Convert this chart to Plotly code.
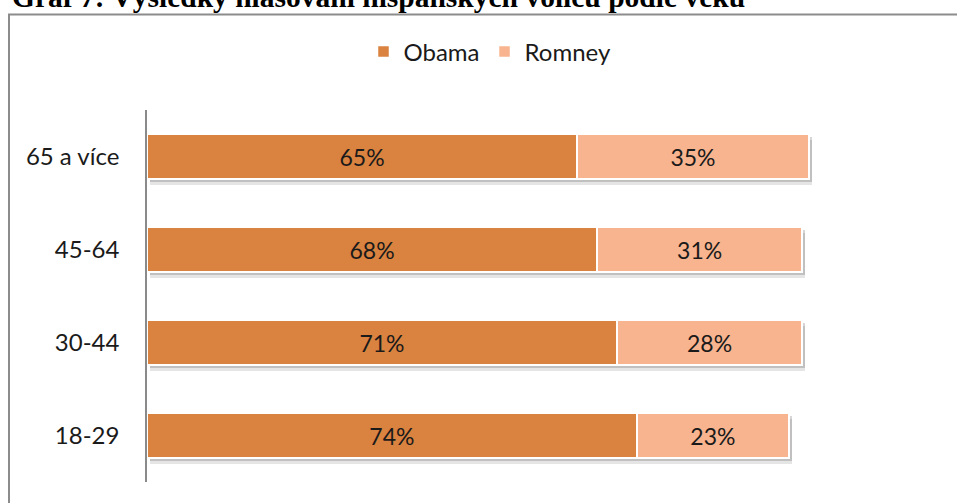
import plotly.graph_objects as go

# Hlasování hispánských voličů podle věkových skupin (v %)
age_groups = ["18-29", "30-44", "45-64", "65 a více"]
obama = [74, 71, 68, 65]
romney = [23, 28, 31, 35]

series_names = ["Obama", "Romney"]
series_colors = ["#DA823F", "#F8B48F"]

W, H = 957, 503
L, R, T, B = 147, 82, 110, 21
X_MAX = 110
plot_w = W - L - R
plot_h = H - T - B
FONT = "Lato"
FS = 24


def px_to_paper_x(px):
    return (px - L) / plot_w


def px_to_paper_y(py):
    return (H - B - py) / plot_h


fig = go.Figure()
totals = [o + r for o, r in zip(obama, romney)]

# base axes: transparent copy so the category axis gets its labels
fig.add_trace(go.Bar(
    y=age_groups, x=totals, orientation="h",
    marker=dict(color="rgba(0,0,0,0)", line=dict(width=0)),
    showlegend=False, hoverinfo="skip",
))

# soft drop shadow behind each stacked bar (same data, offset axes)
for yax, alpha in [("y2", 0.10), ("y3", 0.16)]:
    fig.add_trace(go.Bar(
        y=age_groups, x=totals, orientation="h",
        marker=dict(color=f"rgba(0,0,0,{alpha})", line=dict(width=0)),
        xaxis="x2", yaxis=yax, showlegend=False, hoverinfo="skip",
    ))

for name, vals, col in zip(series_names, [obama, romney], series_colors):
    fig.add_trace(go.Bar(
        y=age_groups, x=vals, orientation="h", name=name,
        marker=dict(color=col, line=dict(color="white", width=1.5)),
        text=[f"{v}%" for v in vals], textposition="inside",
        insidetextanchor="middle",
        textfont=dict(family=FONT, size=FS - 1, color="#1a1a1a"),
        xaxis="x3", yaxis="y4",
    ))

cat = dict(categoryorder="array", categoryarray=age_groups)
shift_x = 3 * X_MAX / plot_w
step = plot_h / len(age_groups)

fig.update_layout(
    width=W, height=H,
    margin=dict(l=L, r=R, t=T, b=B),
    paper_bgcolor="white", plot_bgcolor="white",
    barmode="stack", bargap=0.52,
    font=dict(family=FONT, size=FS, color="#1a1a1a"),
    xaxis=dict(range=[0, X_MAX], visible=False, fixedrange=True),
    yaxis=dict(
        **cat, range=[-0.5, 3.5], showline=True, linecolor="#8a8a8a",
        linewidth=1.5, showgrid=False, ticks="", ticklabelstandoff=21,
        tickfont=dict(family=FONT, size=FS, color="#1a1a1a"),
    ),
    xaxis2=dict(range=[-shift_x, X_MAX - shift_x], overlaying="x", visible=False),
    yaxis2=dict(**cat, range=[-0.5 + 6 / step, 3.5 + 6 / step], overlaying="y", visible=False),
    yaxis3=dict(**cat, range=[-0.5 + 3 / step, 3.5 + 3 / step], overlaying="y", visible=False),
    xaxis3=dict(range=[0, X_MAX], overlaying="x", visible=False),
    yaxis4=dict(**cat, range=[-0.5, 3.5], overlaying="y", visible=False),
    legend=dict(
        orientation="h", x=px_to_paper_x(490), y=px_to_paper_y(52),
        xanchor="center", yanchor="middle",
        font=dict(family=FONT, size=FS, color="#1a1a1a"),
        itemwidth=30, traceorder="normal",
    ),
    showlegend=True,
)

# chart frame
fig.add_shape(
    type="rect", xref="paper", yref="paper",
    x0=px_to_paper_x(9), x1=px_to_paper_x(962),
    y0=px_to_paper_y(510), y1=px_to_paper_y(14.5),
    line=dict(color="#8c8c8c", width=2), fillcolor="rgba(0,0,0,0)", layer="below",
)

# document caption above the frame
fig.add_annotation(
    text="<b>Graf 7: Výsledky hlasování hispánských voličů podle věku</b>",
    xref="paper", yref="paper",
    x=px_to_paper_x(10), y=px_to_paper_y(15),
    xanchor="left", yanchor="bottom", showarrow=False,
    font=dict(family="Liberation Serif", size=29.5, color="black"),
)

fig.write_html("out.html")
